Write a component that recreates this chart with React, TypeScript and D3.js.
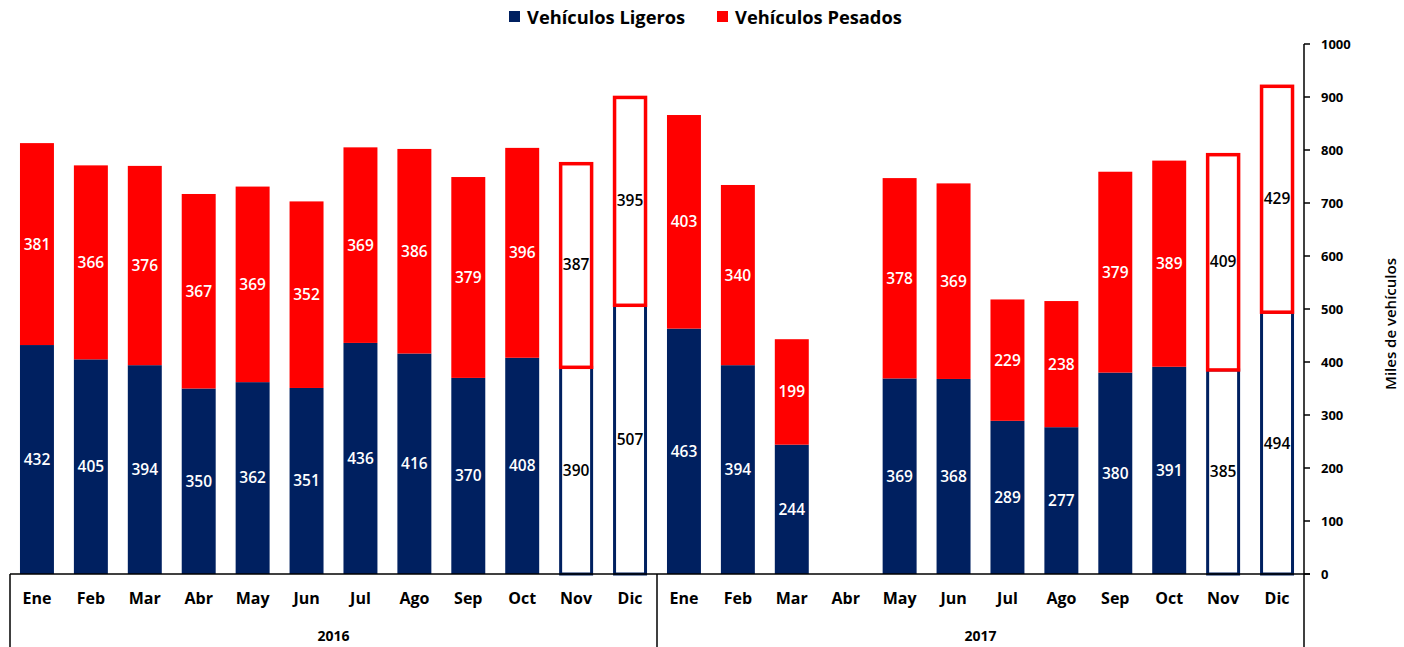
import React from 'react';
import * as d3 from 'd3';

const months = ['Ene', 'Feb', 'Mar', 'Abr', 'May', 'Jun', 'Jul', 'Ago', 'Sep', 'Oct', 'Nov', 'Dic'];
const years = ['2016', '2017'];

// miles de vehículos, null = sin dato
const ligeros2016 = [432, 405, 394, 350, 362, 351, 436, 416, 370, 408, 390, 507];
const pesados2016 = [381, 366, 376, 367, 369, 352, 369, 386, 379, 396, 387, 395];
const ligeros2017 = [463, 394, 244, null, 369, 368, 289, 277, 380, 391, 385, 494];
const pesados2017 = [403, 340, 199, null, 378, 369, 229, 238, 379, 389, 409, 429];

// meses estimados (barras sin relleno)
const estimated = ['Nov', 'Dic'];

const yTicks = [0, 100, 200, 300, 400, 500, 600, 700, 800, 900, 1000];

const NAVY = '#002060';
const RED = '#FF0000';
const FONT = '"Open Sans", "DejaVu Sans", sans-serif';

const W = 1404;
const H = 647;
const left = 10;
const right = 1304;
const y0 = 574;
const yTop = 44;

type Row = { key: string; month: string; year: string; lig: number | null; pes: number | null };

const rows: Row[] = [];
years.forEach((yr, i) => {
  const lig = i === 0 ? ligeros2016 : ligeros2017;
  const pes = i === 0 ? pesados2016 : pesados2017;
  months.forEach((m, j) => {
    rows.push({ key: yr + '-' + m, month: m, year: yr, lig: lig[j], pes: pes[j] });
  });
});

export default function App() {
  const x = d3.scaleBand<string>()
    .domain(rows.map(r => r.key))
    .range([left, right])
    .paddingInner(0.37)
    .paddingOuter(0.185);

  const y = d3.scaleLinear().domain([0, 1000]).range([y0, yTop]);

  const bw = x.bandwidth();
  const step = x.step();

  return (
    <svg width={W} height={H} style={{ position: 'absolute', left: 0, top: 0, background: '#fff' }}
      fontFamily={FONT}>
      {/* legend */}
      <g fontWeight={700} fontSize={18.3} fill="#000">
        <rect x={509} y={11} width={11} height={11} fill={NAVY} />
        <text x={527} y={23.5}>Vehículos Ligeros</text>
        <rect x={717} y={11} width={11} height={11} fill={RED} />
        <text x={735} y={23.5}>Vehículos Pesados</text>
      </g>

      {/* bars */}
      {rows.map(r => {
        if (r.lig == null || r.pes == null) return null;
        const bx = x(r.key)!;
        const cx = bx + bw / 2;
        const yL = y(r.lig);
        const yP = y(r.lig + r.pes);
        const est = estimated.includes(r.month);
        const txtFill = est ? '#000' : '#fff';
        return (
          <g key={r.key}>
            {est ? (
              <>
                <rect x={bx + 1.5} y={yL} width={bw - 3} height={y0 - yL} fill="#fff" stroke={NAVY} strokeWidth={3} />
                <rect x={bx + 1.5} y={yP + 1.5} width={bw - 3} height={yL - yP - 1.5} fill="#fff" stroke={RED} strokeWidth={3.5} />
              </>
            ) : (
              <>
                <rect x={bx} y={yL} width={bw} height={y0 - yL} fill={NAVY} />
                <rect x={bx} y={yP} width={bw} height={yL - yP} fill={RED} />
              </>
            )}
            <text x={cx} y={(yL + y0) / 2} dy="0.35em" textAnchor="middle" fontSize={15.5} fontWeight={600} fill={txtFill}>
              {r.lig}
            </text>
            <text x={cx} y={(yP + yL) / 2} dy="0.35em" textAnchor="middle" fontSize={15.5} fontWeight={600} fill={txtFill}>
              {r.pes}
            </text>
          </g>
        );
      })}

      {/* category axis frame */}
      <g stroke="#000" strokeWidth={1.5}>
        <line x1={left} x2={right + 6} y1={y0} y2={y0} />
        <line x1={left} x2={left} y1={y0} y2={H} />
        <line x1={left + step * 12} x2={left + step * 12} y1={y0} y2={H} />
      </g>
      <g fontWeight={700} fontSize={16} textAnchor="middle" fill="#000">
        {rows.map(r => (
          <text key={r.key} x={x(r.key)! + bw / 2} y={604}>{r.month}</text>
        ))}
        {years.map((yr, i) => (
          <text key={yr} x={left + step * 12 * i + step * 6} y={641} fontSize={14}>{yr}</text>
        ))}
      </g>

      {/* value axis (right) */}
      <g>
        <line x1={right} x2={right} y1={yTop} y2={H} stroke="#000" strokeWidth={1.5} />
        {yTicks.map(t => (
          <g key={t}>
            <line x1={right} x2={right + 6} y1={y(t)} y2={y(t)} stroke="#000" strokeWidth={1.5} />
            <text x={1321} y={y(t)} dy="0.35em" fontSize={13} fontWeight={700} fill="#000">{t}</text>
          </g>
        ))}
        <text transform={`translate(1396, 324) rotate(-90)`} textAnchor="middle" fontSize={15} fontWeight={600} fill="#000">
          Miles de vehículos
        </text>
      </g>
    </svg>
  );
}
